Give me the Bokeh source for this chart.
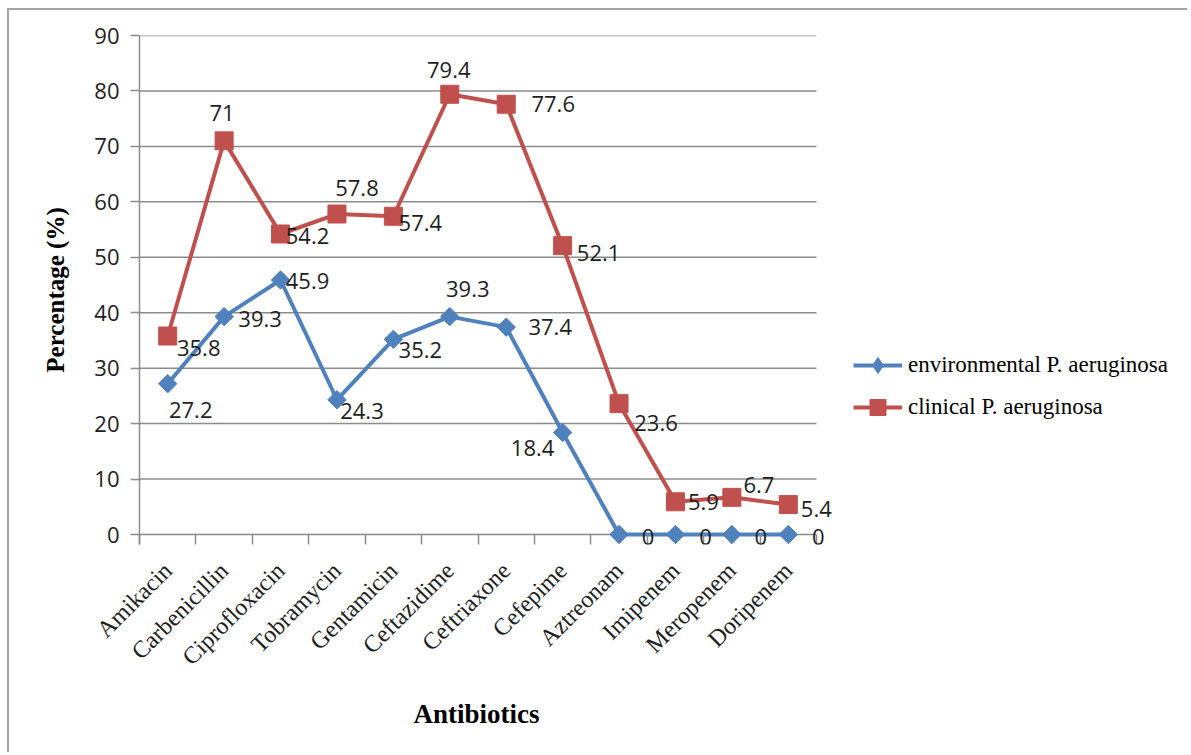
import numpy as np
from bokeh.plotting import figure
from bokeh.models import (FixedTicker, Legend, LegendItem, ColumnDataSource, Range1d,
                          LabelSet, Title)
from bokeh.core.properties import value
from bokeh.embed import file_html
from bokeh.resources import INLINE

categories = ["Amikacin", "Carbenicillin", "Ciprofloxacin", "Tobramycin", "Gentamicin",
              "Ceftazidime", "Ceftriaxone", "Cefepime", "Aztreonam", "Imipenem",
              "Meropenem", "Doripenem"]
environmental = [27.2, 39.3, 45.9, 24.3, 35.2, 39.3, 37.4, 18.4, 0, 0, 0, 0]
clinical = [35.8, 71, 54.2, 57.8, 57.4, 79.4, 77.6, 52.1, 23.6, 5.9, 6.7, 5.4]
y_ticks = [0, 10, 20, 30, 40, 50, 60, 70, 80, 90]

# label placement (screen px offsets, style only; dy positive = downwards)
env_dx = [23, 36, 27, 25, 27, 18, 44, -30, 29, 30, 29, 30]
env_dy = [26, 2, 1, 11, 11, -28, 0, 16, 2, 2, 2, 2]
cli_dx = [31, -2, 27, 20, 27, -1, 47, 36, 37, 28, 27, 28]
cli_dy = [12, -28, 2, -26, 7, -24, 0, 7, 19, 0, -12, 4]

BLUE = "#4F81BD"
RED = "#C0504D"
GRID = "#8c8c8c"
TXT = "#1e1e1e"

# layout (pixels)
W, H = 1180, 744
LEFT, TOP = 130, 25
PLOT_W, PLOT_H = 677, 499   # size of the 0..90 / category area
PAD_B = 10                  # room under the zero line so its labels are not clipped
BOTTOM = H - TOP - PLOT_H - PAD_B

n = len(categories)
xs = [i + 0.5 for i in range(n)]
x_end = n * (W - LEFT) / PLOT_W          # frame extends right for labels/legend
y_start = -PAD_B * 90 / PLOT_H

p = figure(width=W, height=H, output_backend="svg", toolbar_location=None,
           x_range=Range1d(0, x_end), y_range=Range1d(y_start, 90),
           min_border_left=LEFT, min_border_top=TOP, min_border_right=0,
           min_border_bottom=BOTTOM)
p.styles = {"margin-left": "7px", "margin-top": "8px",
            "border-left": "2px solid #a4a4a4", "border-top": "2px solid #a4a4a4"}
p.outline_line_color = None
p.background_fill_color = "white"
p.border_fill_color = "white"

p.xgrid.visible = False
p.ygrid.visible = False
p.segment(x0=0, x1=n, y0=y_ticks, y1=y_ticks, line_color=GRID, line_width=1.5,
          level="underlay")

# x axis (at frame bottom, ticks reach up to the zero line)
p.xaxis.ticker = FixedTicker(ticks=xs, minor_ticks=list(range(n + 1)))
p.xaxis.major_label_overrides = {x: c for x, c in zip(xs, categories)}
p.xaxis.major_label_orientation = np.pi / 4
p.xaxis.major_tick_out = 0
p.xaxis.major_tick_in = 0
p.xaxis.minor_tick_out = 0
p.xaxis.minor_tick_in = PAD_B
p.xaxis.minor_tick_line_color = GRID
p.xaxis.minor_tick_line_width = 1.5
p.xaxis.axis_line_color = None
p.xaxis.major_label_text_font = "Liberation Serif"
p.xaxis.major_label_text_font_size = "24px"
p.xaxis.major_label_text_color = TXT
p.xaxis.major_label_standoff = 22

p.add_layout(Title(text="Antibiotics", align="left", offset=274,
                   text_font="Liberation Serif", text_font_style="bold",
                   text_font_size="27px", text_color="black", standoff=28), "below")

# y axis
p.yaxis.ticker = FixedTicker(ticks=y_ticks)
p.yaxis.minor_tick_line_color = None
p.yaxis.major_tick_out = 9
p.yaxis.major_tick_in = 0
p.yaxis.major_tick_line_color = GRID
p.yaxis.major_tick_line_width = 1.5
p.yaxis.axis_line_color = GRID
p.yaxis.axis_line_width = 1.5
p.yaxis.major_label_text_font = "Open Sans"
p.yaxis.major_label_text_font_size = "22px"
p.yaxis.major_label_text_color = TXT
p.yaxis.major_label_standoff = 11
p.yaxis.axis_label = "Percentage (%)"
p.yaxis.axis_label_text_font = "Liberation Serif"
p.yaxis.axis_label_text_font_style = "bold"
p.yaxis.axis_label_text_font_size = "25px"
p.yaxis.axis_label_text_color = "black"
p.yaxis.axis_label_standoff = 22

src = ColumnDataSource(dict(x=xs, env=environmental, cli=clinical,
                            env_lbl=[f"{v:g}" for v in environmental],
                            cli_lbl=[f"{v:g}" for v in clinical],
                            edx=env_dx, edy=[-d for d in env_dy],
                            cdx=cli_dx, cdy=[-d for d in cli_dy]))

l1 = p.line("x", "env", source=src, line_color=BLUE, line_width=4)
m1 = p.scatter("x", "env", source=src, marker="square", angle=np.pi / 4, size=13,
               fill_color=BLUE, line_color=BLUE)
l2 = p.line("x", "cli", source=src, line_color=RED, line_width=4)
m2 = p.scatter("x", "cli", source=src, marker="square", size=18,
               fill_color=RED, line_color=RED)

# legend-only proxy for the diamond (legend ignores marker angle); NaN => not drawn in plot
proxy = p.scatter(x=[np.nan], y=[np.nan], marker="diamond", size=17,
                  fill_color=BLUE, line_color=BLUE)

for yk, tk, dxk, dyk in (("env", "env_lbl", "edx", "edy"), ("cli", "cli_lbl", "cdx", "cdy")):
    ls = LabelSet(x="x", y=yk, text=tk, source=src, x_offset=dxk, y_offset=dyk,
                  text_align="center", text_baseline="middle",
                  text_font=value("Open Sans"), text_font_size="22px", text_color=TXT)
    p.add_layout(ls)

legend = Legend(items=[LegendItem(label="environmental P. aeruginosa", renderers=[l1, proxy]),
                       LegendItem(label="clinical P. aeruginosa", renderers=[l2, m2])],
                location=(714, 107 + PAD_B))
legend.padding = 0
legend.margin = 0
legend.spacing = 2
legend.glyph_width = 49
legend.glyph_height = 40
legend.label_height = 40
legend.label_standoff = 6
legend.label_text_font = "Liberation Serif"
legend.label_text_font_size = "23px"
legend.label_text_color = "black"
legend.label_text_baseline = "middle"
legend.border_line_color = None
legend.background_fill_alpha = 0
p.add_layout(legend, "center")

open("out.html", "w").write(file_html(p, INLINE))
